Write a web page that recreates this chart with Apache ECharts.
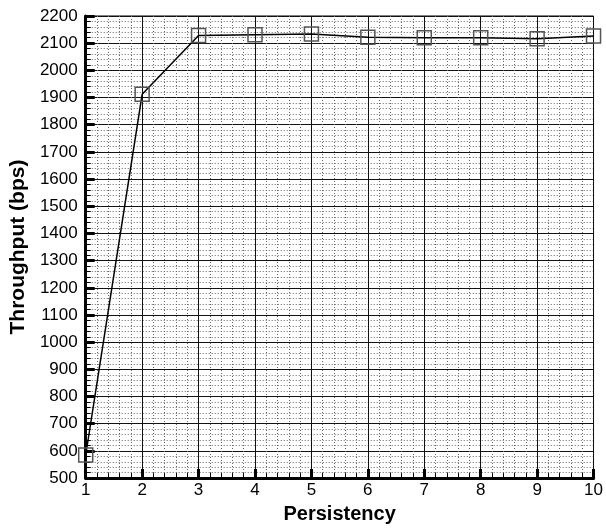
<!DOCTYPE html>
<html>
<head>
<meta charset="utf-8">
<script src="https://cdn.jsdelivr.net/npm/echarts@6/dist/echarts.min.js"></script>
<style>
  html, body { margin: 0; padding: 0; background: #fff; }
  #chart { width: 606px; height: 529px; }
</style>
</head>
<body>
<div id="chart"></div>
<script>
// persistency values on the x axis
const persistency = [1, 2, 3, 4, 5, 6, 7, 8, 9, 10];
// throughput (bps)
const throughput = [585, 1912, 2128, 2131, 2134, 2122, 2120, 2120, 2116, 2126];

const chart = echarts.init(document.getElementById('chart'));

const font = 'Liberation Sans, Arial, sans-serif';

const option = {
    backgroundColor: '#ffffff',
    animation: false,
    grid: {
        left: 82,
        right: 10,
        top: 16,
        bottom: 42,
        show: true,
        borderColor: '#000',
        borderWidth: 1,
        backgroundColor: 'transparent',
    },
    xAxis: {
        type: 'value',
        min: 1,
        max: 10,
        interval: 1,
        name: 'Persistency',
        nameLocation: 'middle',
        nameGap: 23,
        nameTextStyle: { fontFamily: font, fontSize: 20, fontWeight: 'bold', color: '#000' },
        axisLine: { onZero: false, lineStyle: { color: '#000', width: 3 } },
        axisTick: { inside: true, length: 9, lineStyle: { color: '#000', width: 3 } },
        minorTick: { show: true, splitNumber: 5, length: 5, lineStyle: { color: '#000', width: 1 } },
        axisLabel: { fontFamily: font, fontSize: 17, color: '#000', margin: 4, formatter: v => String(v) },
        splitLine: { show: true, lineStyle: { color: '#111', width: 1 } },
        minorSplitLine: { show: true, lineStyle: { color: '#666', width: 1, type: [1, 2] } },
    },
    yAxis: {
        type: 'value',
        min: 500,
        max: 2200,
        interval: 100,
        name: 'Throughput (bps)',
        nameLocation: 'middle',
        nameGap: 52,
        nameTextStyle: { fontFamily: font, fontSize: 21, fontWeight: 'bold', color: '#000' },
        axisLine: { onZero: false, lineStyle: { color: '#000', width: 3 } },
        axisTick: { inside: true, length: 9, lineStyle: { color: '#000', width: 3 } },
        minorTick: { show: true, splitNumber: 5, length: 5, lineStyle: { color: '#000', width: 1 } },
        axisLabel: { fontFamily: font, fontSize: 17, color: '#000', margin: 8, formatter: v => String(v) },
        splitLine: { show: true, lineStyle: { color: '#111', width: 1 } },
        minorSplitLine: { show: true, lineStyle: { color: '#666', width: 1, type: [1, 2] } },
    },
    series: [
        {
            type: 'line',
            data: persistency.map((p, i) => [p, throughput[i]]),
            clip: false,
            symbol: 'rect',
            symbolSize: 14,
            lineStyle: { color: '#000', width: 1.5 },
            itemStyle: { color: 'transparent', borderColor: '#555', borderWidth: 1.5 },
        },
    ],
};

chart.setOption(option);
</script>
</body>
</html>
